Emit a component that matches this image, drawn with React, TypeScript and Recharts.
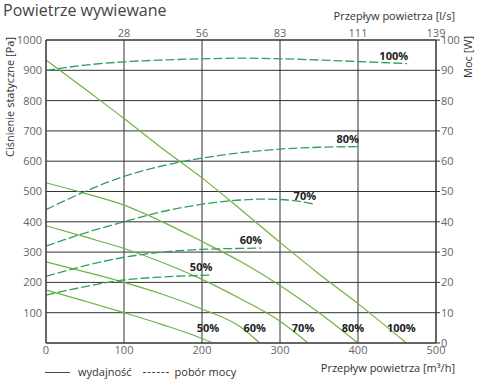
import { ComposedChart, Line, XAxis, YAxis, CartesianGrid } from 'recharts';

// krzywe wydajności [Pa] w funkcji przepływu [m³/h]
const fan100 = [
  { q: 0, pa: 934 }, { q: 50, pa: 838 }, { q: 100, pa: 741 }, { q: 150, pa: 640 }, { q: 200, pa: 545 },
  { q: 250, pa: 440 }, { q: 300, pa: 332 }, { q: 350, pa: 228 }, { q: 400, pa: 130 }, { q: 462, pa: 0 },
];
const fan80 = [
  { q: 0, pa: 529 }, { q: 50, pa: 494 }, { q: 100, pa: 455 }, { q: 150, pa: 399 }, { q: 200, pa: 335 },
  { q: 250, pa: 268 }, { q: 300, pa: 190 }, { q: 350, pa: 100 }, { q: 400, pa: 0 },
];
const fan70 = [
  { q: 0, pa: 387 }, { q: 50, pa: 350 }, { q: 100, pa: 312 }, { q: 150, pa: 265 }, { q: 200, pa: 210 },
  { q: 250, pa: 145 }, { q: 300, pa: 72 }, { q: 336, pa: 0 },
];
const fan60 = [
  { q: 0, pa: 268 }, { q: 50, pa: 235 }, { q: 100, pa: 200 }, { q: 150, pa: 160 }, { q: 200, pa: 112 },
  { q: 250, pa: 52 }, { q: 274, pa: 0 },
];
const fan50 = [
  { q: 0, pa: 175 }, { q: 50, pa: 138 }, { q: 100, pa: 100 }, { q: 150, pa: 60 }, { q: 200, pa: 15 },
  { q: 214, pa: 0 },
];

// pobór mocy [W]
const power100 = [
  { q: 0, w: 90 }, { q: 50, w: 91.7 }, { q: 100, w: 92.8 }, { q: 150, w: 93.4 }, { q: 200, w: 93.8 },
  { q: 250, w: 94 }, { q: 300, w: 93.8 }, { q: 350, w: 93.4 }, { q: 400, w: 92.9 }, { q: 463, w: 92.2 },
];
const power80 = [
  { q: 0, w: 44 }, { q: 50, w: 50 }, { q: 100, w: 55 }, { q: 150, w: 58.5 }, { q: 200, w: 61 },
  { q: 250, w: 62.8 }, { q: 300, w: 64 }, { q: 350, w: 64.6 }, { q: 400, w: 64.8 },
];
const power70 = [
  { q: 0, w: 32 }, { q: 50, w: 36.3 }, { q: 100, w: 40 }, { q: 150, w: 43.4 }, { q: 200, w: 45.8 },
  { q: 250, w: 47.2 }, { q: 280, w: 47.5 }, { q: 310, w: 47.2 }, { q: 345, w: 45.8 },
];
const power60 = [
  { q: 0, w: 22 }, { q: 50, w: 25.5 }, { q: 100, w: 28.3 }, { q: 150, w: 30 }, { q: 200, w: 30.9 },
  { q: 276, w: 31.3 },
];
const power50 = [
  { q: 0, w: 15.8 }, { q: 50, w: 18.6 }, { q: 100, w: 20.8 }, { q: 150, w: 21.8 }, { q: 212, w: 22.4 },
];

const fanCurves = [
  { name: '100%', points: fan100 },
  { name: '80%', points: fan80 },
  { name: '70%', points: fan70 },
  { name: '60%', points: fan60 },
  { name: '50%', points: fan50 },
];
const powerCurves = [
  { name: '100%', points: power100 },
  { name: '80%', points: power80 },
  { name: '70%', points: power70 },
  { name: '60%', points: power60 },
  { name: '50%', points: power50 },
];

const flowTicks = [0, 100, 200, 300, 400, 500];
const topTicks = [100, 200, 300, 400, 500];
const topTickLabels = ['28', '56', '83', '111', '139'];
const pressureTicks = [100, 200, 300, 400, 500, 600, 700, 800, 900, 1000];
const powerTicks = [0, 10, 20, 30, 40, 50, 60, 70, 80, 90, 100];

const FONT = "'Open Sans', 'DejaVu Sans', sans-serif";
const GRID = '#333';
const TICK = { fill: '#666', fontSize: 11, fontFamily: FONT };

const endLabel = (name: string, last: number, fan: boolean) => (props: any) => {
  if (props.index !== last) return null;
  return (
    <text
      x={fan ? props.x - 5 : props.x + 1}
      y={fan ? props.y - 11 : props.y - 4}
      textAnchor={fan ? 'middle' : 'end'}
      fontFamily={FONT}
      fontSize={11}
      fontWeight="bold"
      fill="#222"
    >
      {name}
    </text>
  );
};

export default function App() {
  return (
    <div style={{ position: 'absolute', left: 0, top: 0, width: 480, height: 380, fontFamily: FONT }}>
      <ComposedChart width={480} height={380} margin={{ top: 0, right: 0, bottom: 0, left: 0 }}>
        <CartesianGrid stroke={GRID} xAxisId="bottom" yAxisId="left" />
        <XAxis
          xAxisId="bottom"
          dataKey="q"
          type="number"
          domain={[0, 500]}
          ticks={flowTicks}
          height={37}
          tickSize={0}
          tickMargin={3}
          axisLine={{ stroke: GRID }}
          tick={TICK}
        />
        <XAxis
          xAxisId="top"
          orientation="top"
          dataKey="q"
          type="number"
          domain={[0, 500]}
          ticks={topTicks}
          tickFormatter={(v: number) => topTickLabels[topTicks.indexOf(v)]}
          height={40}
          tickSize={0}
          tickMargin={3}
          axisLine={{ stroke: GRID }}
          tick={TICK}
        />
        <YAxis
          yAxisId="left"
          type="number"
          domain={[0, 1000]}
          ticks={pressureTicks}
          width={46}
          tickLine={false}
          tickSize={3}
          tickMargin={1}
          axisLine={{ stroke: GRID }}
          tick={TICK}
        />
        <YAxis
          yAxisId="right"
          orientation="right"
          type="number"
          domain={[0, 100]}
          ticks={powerTicks}
          width={44}
          tickSize={4}
          tickMargin={1}
          tickLine={{ stroke: GRID }}
          axisLine={{ stroke: GRID }}
          tick={TICK}
        />
        {fanCurves.map((c) => (
          <Line
            key={'fan' + c.name}
            xAxisId="bottom"
            yAxisId="left"
            data={c.points}
            dataKey="pa"
            type="monotone"
            stroke="#6db33f"
            strokeWidth={1.2}
            dot={false}
            isAnimationActive={false}
            label={endLabel(c.name, c.points.length - 1, true)}
          />
        ))}
        {powerCurves.map((c) => (
          <Line
            key={'pow' + c.name}
            xAxisId="top"
            yAxisId="right"
            data={c.points}
            dataKey="w"
            type="monotone"
            stroke="#2ea05a"
            strokeWidth={1.3}
            strokeDasharray="9 3"
            dot={false}
            isAnimationActive={false}
            label={endLabel(c.name, c.points.length - 1, false)}
          />
        ))}
      </ComposedChart>

      <div style={{ position: 'absolute', left: 3, top: 0, fontSize: 16, lineHeight: '20px', color: '#444' }}>
        Powietrze wywiewane
      </div>
      <div style={{ position: 'absolute', right: 25, top: 8, fontSize: 11, lineHeight: '16px', color: '#333', whiteSpace: 'nowrap' }}>
        Przepływ powietrza [l/s]
      </div>
      <div
        style={{
          position: 'absolute', left: 2, top: 37, fontSize: 11, lineHeight: '16px', color: '#333',
          writingMode: 'vertical-rl', transform: 'rotate(180deg)', whiteSpace: 'nowrap',
        }}
      >
        Ciśnienie statyczne [Pa]
      </div>
      <div
        style={{
          position: 'absolute', left: 460, top: 36, fontSize: 11, lineHeight: '16px', color: '#333',
          writingMode: 'vertical-rl', transform: 'rotate(180deg)', whiteSpace: 'nowrap',
        }}
      >
        Moc [W]
      </div>
      <div style={{ position: 'absolute', right: 25, top: 360, fontSize: 11, lineHeight: '16px', color: '#333', whiteSpace: 'nowrap' }}>
        Przepływ powietrza [m³/h]
      </div>
      <div
        style={{
          position: 'absolute', left: 45, top: 364, display: 'flex', alignItems: 'center',
          fontSize: 11, lineHeight: '16px', color: '#333', whiteSpace: 'nowrap',
        }}
      >
        <span style={{ width: 25, borderTop: '1px solid #444', marginRight: 8 }} />
        <span>wydajność</span>
        <span style={{ width: 26, borderTop: '1px dashed #444', marginLeft: 11, marginRight: 6 }} />
        <span>pobór mocy</span>
      </div>
    </div>
  );
}
